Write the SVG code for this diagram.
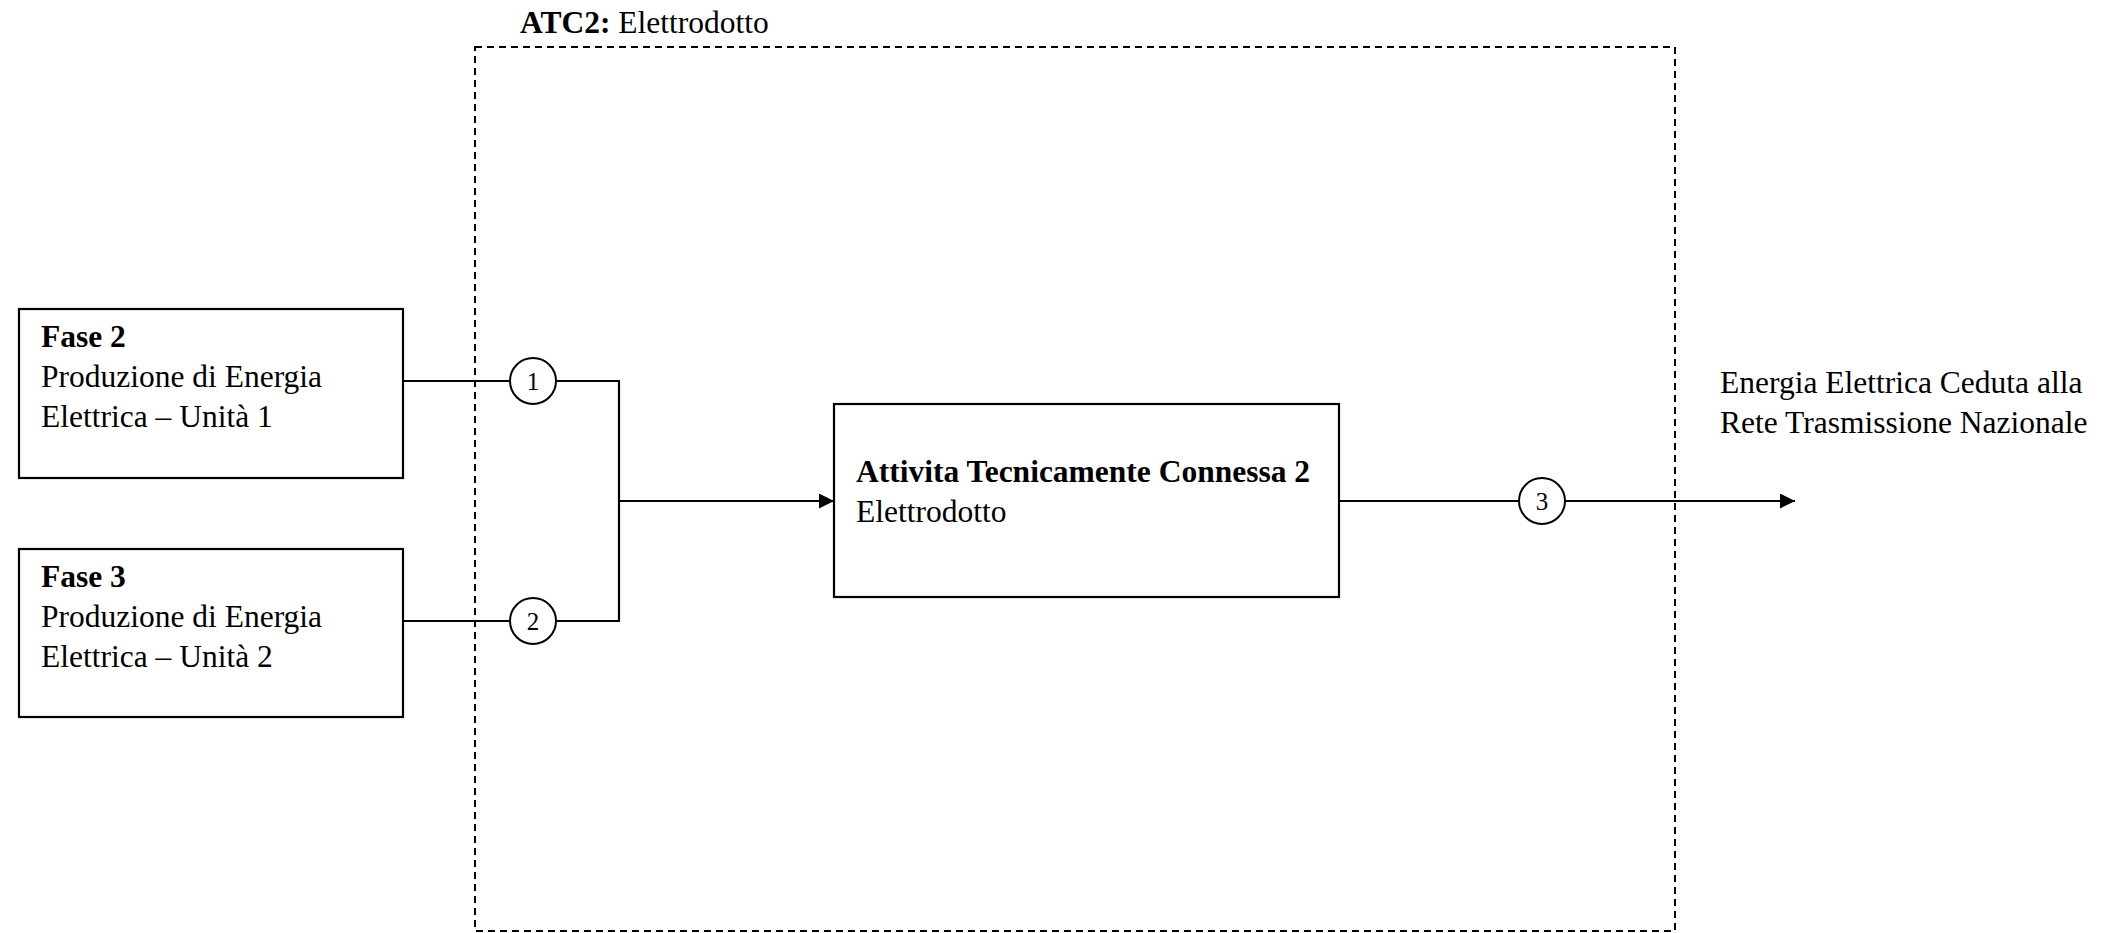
<svg xmlns="http://www.w3.org/2000/svg" width="2103" height="933" viewBox="0 0 2103 933">
<style>
  text { font-family: "Liberation Serif", "Times New Roman", serif; font-size: 31.5px; fill: #000; }
  .b { font-weight: bold; }
  .num { font-size: 25px; text-anchor: middle; }
  .box { fill: #fff; stroke: #000; stroke-width: 2.2; }
  .wire { fill: none; stroke: #000; stroke-width: 2.2; }
  .badge { fill: #fff; stroke: #000; stroke-width: 2; }
  .frame { fill: none; stroke: #000; stroke-width: 2; stroke-dasharray: 7 5; }
</style>
<defs>
  <marker id="arr" viewBox="0 0 15 15" refX="15" refY="7.5" markerWidth="15" markerHeight="15" markerUnits="userSpaceOnUse" orient="auto">
    <path d="M0,0 L15,7.5 L0,15 z" fill="#000"/>
  </marker>
</defs>
<rect width="2103" height="933" fill="#fff"/>

<g id="atc2-frame">
  <rect class="frame" x="475" y="47" width="1200" height="884"/>
  <text x="520" y="33"><tspan class="b">ATC2:</tspan> Elettrodotto</text>
</g>

<g id="connectors">
  <path class="wire" d="M403,381 H510 M556,381 H619 V621 H556 M510,621 H403"/>
  <path class="wire" d="M619,501 H834" marker-end="url(#arr)"/>
  <path class="wire" d="M1339,501 H1519 M1565,501 H1795" marker-end="url(#arr)"/>
</g>

<g id="fase2">
  <rect class="box" x="19" y="309" width="384" height="169"/>
  <text x="41" y="347" class="b">Fase 2</text>
  <text x="41" y="387">Produzione di Energia</text>
  <text x="41" y="427">Elettrica – Unità 1</text>
</g>

<g id="fase3">
  <rect class="box" x="19" y="549" width="384" height="168"/>
  <text x="41" y="587" class="b">Fase 3</text>
  <text x="41" y="627">Produzione di Energia</text>
  <text x="41" y="667">Elettrica – Unità 2</text>
</g>

<g id="atc2-node">
  <rect class="box" x="834" y="404" width="505" height="193"/>
  <text x="856" y="482" class="b">Attivita Tecnicamente Connessa 2</text>
  <text x="856" y="522">Elettrodotto</text>
</g>

<g id="flow1">
  <circle class="badge" cx="533" cy="381" r="23"/>
  <text class="num" x="533" y="390">1</text>
</g>
<g id="flow2">
  <circle class="badge" cx="533" cy="621" r="23"/>
  <text class="num" x="533" y="630">2</text>
</g>
<g id="flow3">
  <circle class="badge" cx="1542" cy="501" r="23"/>
  <text class="num" x="1542" y="510">3</text>
</g>

<g id="output-label">
  <text x="1720" y="393">Energia Elettrica Ceduta alla</text>
  <text x="1720" y="433">Rete Trasmissione Nazionale</text>
</g>
</svg>
